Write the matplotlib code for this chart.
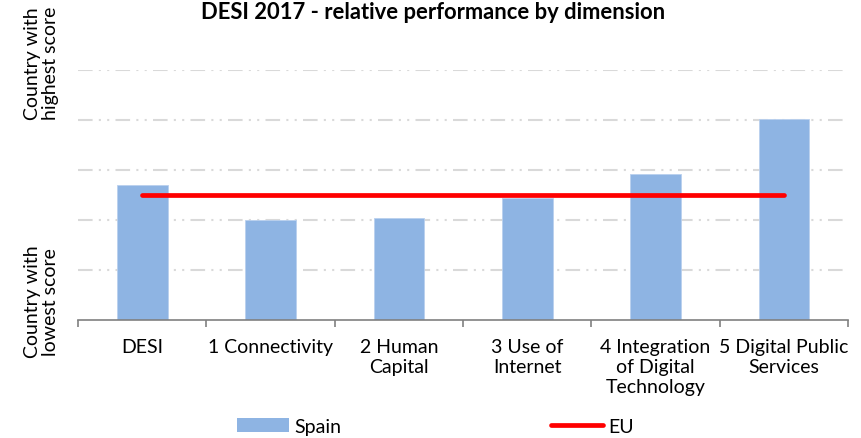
import numpy as np
import matplotlib
matplotlib.use("Agg")
import matplotlib.pyplot as plt
from matplotlib.lines import Line2D
from matplotlib.patches import Patch

# ---- data ----
categories = ['DESI', '1 Connectivity', '2 Human\nCapital', '3 Use of\nInternet',
              '4 Integration\nof Digital\nTechnology', '5 Digital Public\nServices']
spain = [2.70, 2.00, 2.05, 2.45, 2.93, 4.02]
eu = [2.50, 2.50, 2.50, 2.50, 2.50, 2.50]

plt.rcParams['font.family'] = ['Lato', 'DejaVu Sans']

fig = plt.figure(figsize=(8.62, 4.39), dpi=100)
ax = fig.add_axes([0.0905, 0.2688, 0.8933, 0.5692])

x = np.arange(len(categories))
ax.bar(x, spain, width=0.395, color='#8EB4E3', edgecolor='#B9D0EE', linewidth=0.6, zorder=2)
ax.plot(x, eu, color='#FF0000', linewidth=3.4, solid_capstyle='round', zorder=3)

ax.set_xlim(-0.5, len(categories) - 0.5)
ax.set_ylim(0, 5)

# grid lines, dash-dot-dot style
for yv in [1, 2, 3, 4, 5]:
    ax.axhline(yv, color='#D9D9D9', linewidth=1.5, dashes=(7, 3, 1, 3, 1, 3), zorder=1)

for side in ['left', 'right', 'top']:
    ax.spines[side].set_visible(False)
ax.spines['bottom'].set_color('#808080')
ax.spines['bottom'].set_linewidth(1.2)

ax.set_yticks([])
ax.set_xticks(x)
ax.set_xticklabels(categories, fontsize=14, linespacing=1.2)
ax.tick_params(axis='x', which='major', length=0, pad=13)
ax.set_xticks(np.arange(-0.5, len(categories)), minor=True)
ax.tick_params(axis='x', which='minor', length=5, width=1.2, color='#808080', direction='out')

fig.text(0.502, 0.957, 'DESI 2017 - relative performance by dimension', ha='center',
         va='baseline', fontsize=15.8, fontweight='bold')

fig.text(0.048, 0.856, 'Country with\nhighest score', rotation=90, ha='center', va='center',
         fontsize=14, linespacing=1.1)
fig.text(0.048, 0.312, 'Country with\nlowest score', rotation=90, ha='center', va='center',
         fontsize=14, linespacing=1.1)

handles = [Patch(facecolor='#8EB4E3', edgecolor='none'),
           Line2D([0], [0], color='#FF0000', linewidth=3.4, solid_capstyle='round')]
fig.legend(handles, ['Spain', 'EU'], loc='center', bbox_to_anchor=(0.505, 0.027), ncol=2,
           frameon=False, fontsize=14, columnspacing=10.8, handlelength=2.68,
           handletextpad=0.25, handleheight=0.8, borderpad=0.1)

fig.savefig('out.png', dpi=100)
